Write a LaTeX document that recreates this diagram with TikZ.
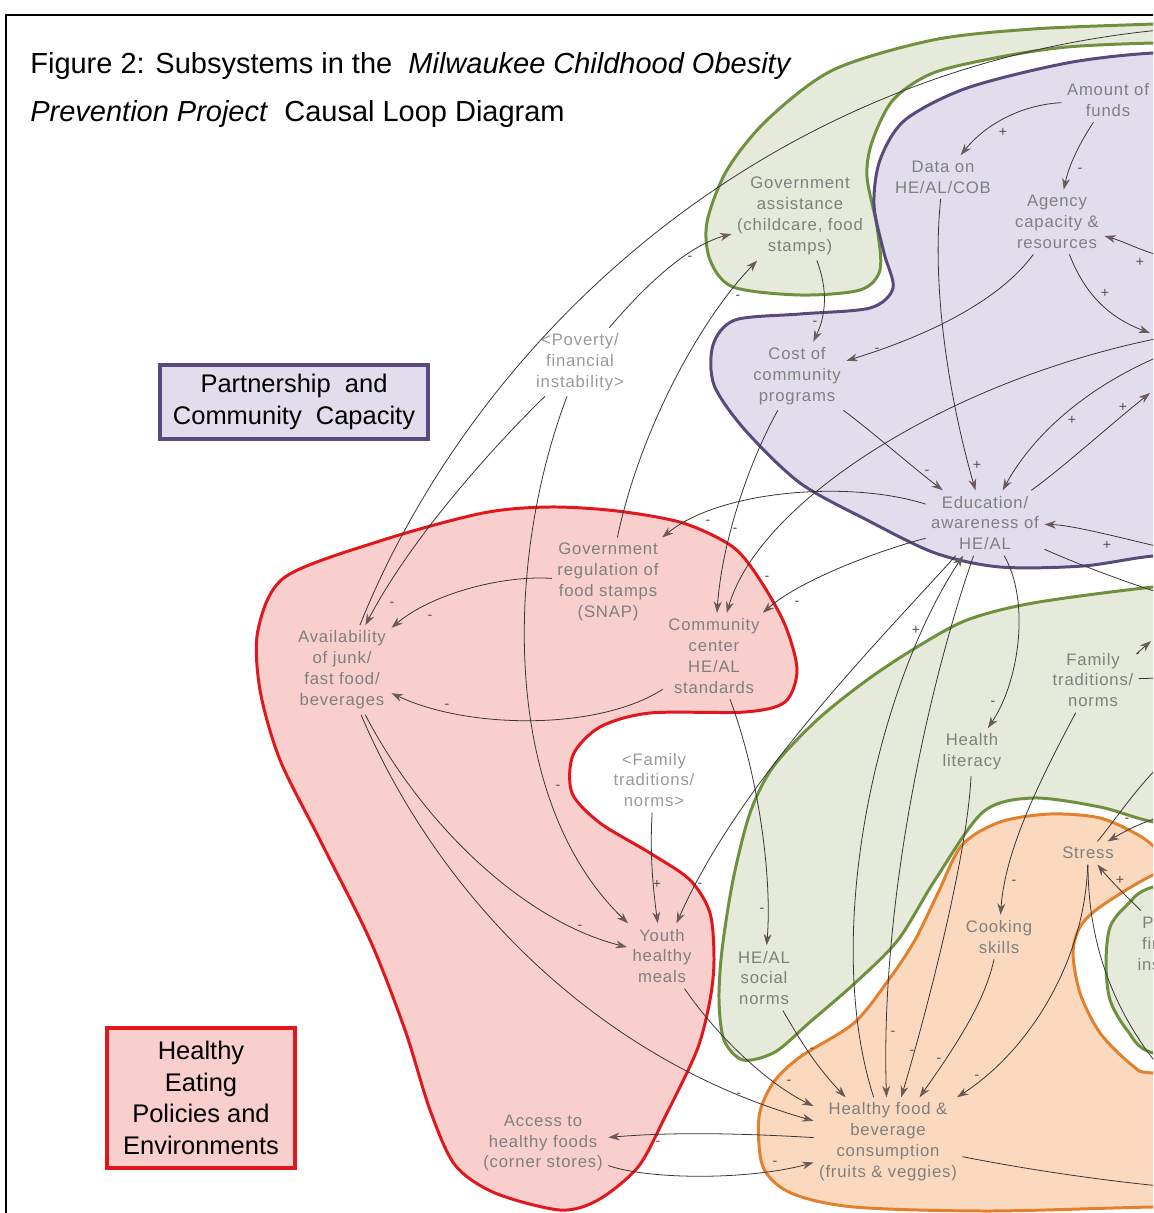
\documentclass[tikz,border=0pt]{standalone}
\usepackage{fontspec}
\setmainfont{Liberation Sans}
\newfontfamily\varfont[LetterSpace=5]{Liberation Sans}
\usetikzlibrary{arrows.meta}

\definecolor{purplefill}{HTML}{E1DDEC}
\definecolor{purpleline}{HTML}{594A7E}
\definecolor{greenfill}{HTML}{E5EADB}
\definecolor{greenline}{HTML}{6F913F}
\definecolor{redfill}{HTML}{F9CFCE}
\definecolor{redline}{HTML}{E2171C}
\definecolor{orangefill}{HTML}{FBD9BF}
\definecolor{orangeline}{HTML}{E2802D}
\definecolor{vargray}{HTML}{7F7F7F}
\definecolor{shadowgray}{HTML}{999999}
\definecolor{linegray}{HTML}{3A3434}
\definecolor{tipgray}{HTML}{6A5A5A}
\definecolor{signgray}{HTML}{505050}

\tikzset{
    var/.style={align=center, font=\varfont\fontsize{9.5}{11.9}\selectfont, text=vargray, inner sep=3pt},
    shadowvar/.style={var, text=shadowgray},
    catbox/.style={align=center, font=\fontsize{14.5}{18}\selectfont, line width=2.3pt, inner sep=0pt},
    titleline/.style={anchor=base west, inner sep=0pt, font=\fontsize{16.5}{20}\selectfont},
    blob/.style={line width=1.7pt},
    cl/.style={draw=linegray, line width=0.45pt},
    arr/.style={cl, -{Stealth[length=6.5pt, width=4.5pt, color=tipgray]}},
    sgn/.style={font=\fontsize{8}{8}\selectfont, text=signgray, inner sep=0pt}
}

\begin{document}
\begin{tikzpicture}[x=0.02cm, y=-0.02cm]
        \useasboundingbox (0,0) rectangle (1153,1213);
        \clip (0,0) rectangle (1153,1213);
        \fill[white] (0,0) rectangle (1153,1213);
        \draw[line width=1.7pt] (6,15) rectangle (1220,1260);

        \filldraw[blob, fill=greenfill, draw=greenline] plot[smooth cycle] coordinates {
            (1250,20) (1153,24) (1033,29) (933,40) (833,70) (767,120) (727,170) (707,222)
            (710,260) (733,287) (800,295) (860,290) (880,270) (877,227) (867,177) (872,142)
            (893,100) (933,73) (1000,57) (1067,47) (1153,43) (1250,42)};
        \filldraw[blob, fill=purplefill, draw=purpleline] plot[smooth cycle] coordinates {
            (1250,52) (1153,53) (1067,63) (967,88) (905,120) (880,160) (874,205) (884,253)
            (893,288) (870,308) (800,314) (735,320) (713,345) (714,385) (745,430) (800,483)
            (867,520) (935,553) (1000,567) (1083,566) (1153,556) (1250,550)};
        \filldraw[blob, fill=redfill, draw=redline] plot[smooth cycle] coordinates {
            (258,630) (285,577) (383,540) (483,513) (550,507) (617,511) (683,523) (733,547)
            (760,580) (785,625) (797,670) (785,702) (745,712) (650,713) (600,727) (573,755)
            (572,793) (600,823) (650,853) (690,880) (710,913) (714,960) (710,1000) (697,1050)
            (665,1117) (638,1167) (598,1200) (560,1210) (495,1193) (455,1165) (430,1110)
            (405,1030) (370,940) (320,840) (280,760) (260,690)};
        \filldraw[blob, fill=greenfill, draw=greenline] plot[smooth cycle] coordinates {
            (1250,580) (1153,587) (1033,603) (967,620) (917,647) (867,680) (817,720) (773,767)
            (750,813) (733,880) (722,950) (719,1000) (724,1040) (743,1060) (775,1052)
            (810,1022) (855,983) (898,940) (935,880) (983,812) (1033,798) (1100,807)
            (1153,822) (1250,840)};
        \filldraw[blob, fill=greenfill, draw=greenline] plot[smooth cycle] coordinates {
            (1250,870) (1153,887) (1127,905) (1110,927) (1106,963) (1110,1000) (1127,1030)
            (1153,1053) (1250,1065)};
        \filldraw[blob, fill=orangefill, draw=orangeline] plot[smooth cycle] coordinates {
            (1170,858) (1140,836) (1100,818) (1050,814) (1000,822) (962,845) (938,893)
            (915,940) (890,978) (854,1023) (800,1057) (773,1083) (759,1117) (763,1167)
            (791,1193) (854,1207) (988,1211) (1153,1207) (1250,1207) (1250,1075) (1153,1073)
            (1133,1066) (1100,1033) (1080,993) (1073,953) (1080,927) (1100,907) (1153,875)
            (1200,862)};

        \node[titleline] (title1) at (30,74)
            {Figure 2: Subsystems in the\ \ \textit{Milwaukee Childhood Obesity}};
        \node[titleline] (title2) at (30,122)
            {\textit{Prevention Project}\ \ Causal Loop Diagram};
        \node[catbox, fill=purplefill, draw=purpleline, minimum width=153pt, minimum height=42pt]
            (pcc) at (294,402) {Partnership\ \ and\\Community\ \ Capacity};
        \node[catbox, fill=redfill, draw=redline, minimum width=107pt, minimum height=80pt]
            (hepe) at (201,1098) {Healthy\\Eating\\Policies and\\Environments};

        \node[var] (funds) at (1108,100) {Amount of\\funds};
        \node[var] (data) at (943,177) {Data on\\HE/AL/COB};
        \node[var] (agency) at (1057,222) {Agency\\capacity \&\\resources};
        \node[var] (cost) at (797,376) {Cost of\\community\\programs};
        \node[var] (edu) at (985,523) {Education/\\awareness of\\HE/AL};
        \node[var] (govassist) at (800,216) {Government\\assistance\\(childcare, food\\stamps)};
        \node[shadowvar] (poverty) at (580,362) {<Poverty/\\financial\\instability>};
        \node[var] (govreg) at (608,582) {Government\\regulation of\\food stamps\\(SNAP)};
        \node[var] (junk) at (342,670) {Availability\\of junk/\\fast food/\\beverages};
        \node[var] (center) at (714,656) {Community\\center\\HE/AL\\standards};
        \node[shadowvar] (famshadow) at (654,780) {<Family\\traditions/\\norms>};
        \node[var] (youth) at (662,956) {Youth\\healthy\\meals};
        \node[var] (access) at (543,1143) {Access to\\healthy foods\\(corner stores)};
        \node[var] (family) at (1093,680) {Family\\traditions/\\norms};
        \node[var] (literacy) at (972,752) {Health\\literacy};
        \node[var] (social) at (764,978) {HE/AL\\social\\norms};
        \node[var] (stress) at (1088,853) {Stress};
        \node[var] (cooking) at (999,937) {Cooking\\skills};
        \node[var] (hfc) at (888,1142) {Healthy food \&\\beverage\\consumption\\(fruits \& veggies)};
        \node[var] (povright) at (1176,945) {Poverty/\\financial\\instability};

        \coordinate (etop) at (1160,30);
        \coordinate (eagin) at (1160,256);
        \coordinate (eagout) at (1150,333);
        \coordinate (ecenter) at (1160,338);
        \coordinate (eeduin) at (1160,356);
        \coordinate (eeduout) at (1150,393);
        \coordinate (eedulow) at (1160,547);
        \coordinate (eedurt) at (1160,593);
        \coordinate (efamout) at (1151,641);
        \coordinate (efamrt) at (1160,678);
        \coordinate (estressup) at (1160,765);
        \coordinate (estressin) at (1160,817);
        \coordinate (estressdn) at (1160,1068);
        \coordinate (ehfc) at (1160,1186);

        \draw[arr] (funds) .. controls (1020,105) and (985,125) .. (data);
        \draw[arr] (funds) .. controls (1085,135) and (1070,160) .. (agency);
        \draw[arr] (eagin) .. controls (1135,248) and (1125,242) .. (agency);
        \draw[arr] (agency) .. controls (1085,295) and (1110,318) .. (eagout);
        \draw[arr] (agency) .. controls (1000,300) and (930,335) .. (cost);
        \draw[arr] (data) .. controls (930,300) and (955,420) .. (edu);
        \draw[arr] (cost) .. controls (870,430) and (910,465) .. (edu);
        \draw[arr] (eeduin) .. controls (1080,390) and (1030,440) .. (edu);
        \draw[arr] (edu) .. controls (1060,470) and (1110,425) .. (eeduout);
        \draw[arr] (eedulow) .. controls (1110,535) and (1070,525) .. (edu);
        \draw[cl] (edu) .. controls (1080,565) and (1120,580) .. (eedurt);
        \draw[arr] (ecenter) .. controls (950,380) and (760,500) .. (center);
        \draw[arr] (cost) .. controls (750,460) and (722,540) .. (center);
        \draw[arr] (edu) .. controls (850,480) and (720,490) .. (govreg);
        \draw[arr] (edu) .. controls (880,550) and (800,580) .. (center);
        \draw[arr] (poverty) .. controls (650,280) and (690,245) .. (govassist);
        \draw[arr] (govreg) .. controls (640,430) and (700,320) .. (govassist);
        \draw[arr] (govassist) .. controls (828,290) and (826,315) .. (cost);
        \draw[arr] (poverty) .. controls (490,450) and (410,540) .. (junk);
        \draw[cl] (junk) .. controls (470,350) and (750,70) .. (etop);
        \draw[arr] (poverty) .. controls (505,560) and (500,800) .. (youth);
        \draw[arr] (govreg) .. controls (500,575) and (430,595) .. (junk);
        \draw[arr] (center) .. controls (600,730) and (470,730) .. (junk);
        \draw[arr] (junk) .. controls (420,820) and (520,920) .. (youth);
        \draw[arr] (junk) .. controls (440,900) and (600,1060) .. (hfc);
        \draw[arr] (famshadow) .. controls (650,850) and (652,880) .. (youth);
        \draw[arr] (edu) .. controls (880,640) and (740,780) .. (youth);
        \draw[arr] (edu) .. controls (930,680) and (880,900) .. (hfc);
        \draw[arr] (hfc) .. controls (820,930) and (880,680) .. (edu);
        \draw[arr] (edu) .. controls (1030,600) and (1020,680) .. (literacy);
        \draw[arr] (literacy) .. controls (968,850) and (930,1000) .. (hfc);
        \draw[arr] (cooking) .. controls (985,1000) and (960,1040) .. (hfc);
        \draw[arr] (stress) .. controls (1085,960) and (1030,1050) .. (hfc);
        \draw[arr] (social) .. controls (800,1040) and (815,1065) .. (hfc);
        \draw[arr] (youth) .. controls (720,1040) and (770,1085) .. (hfc);
        \draw[arr] (center) .. controls (760,780) and (772,880) .. (social);
        \draw[arr] (family) .. controls (1040,780) and (1005,850) .. (cooking);
        \draw[arr] (family) .. controls (1135,655) .. (efamout);
        \draw[cl] (family) -- (efamrt);
        \draw[arr] (povright) .. controls (1125,895) and (1110,880) .. (stress);
        \draw[arr] (estressin) .. controls (1135,825) and (1122,833) .. (stress);
        \draw[cl] (stress) .. controls (1115,820) and (1135,790) .. (estressup);
        \draw[cl] (stress) .. controls (1088,930) and (1105,1000) .. (estressdn);
        \draw[cl] (hfc) .. controls (1030,1170) and (1100,1180) .. (ehfc);
        \draw[arr] (hfc) .. controls (720,1132) and (660,1133) .. (access);
        \draw[arr] (access) .. controls (650,1180) and (750,1180) .. (hfc);

        \foreach \sx/\sy/\sv [count=\i] in {1003/132/+, 1080/170/-, 1140/262/+, 1105/293/+,
                877/350/-, 815/323/-, 690/258/-, 738/297/-, 977/465/+, 927/472/-, 1072/420/+,
                1123/407/+, 1107/545/+, 708/522/-, 735/530/-, 767/578/-, 797/603/-, 392/604/-,
                430/617/-, 447/706/-, 558/787/-, 580/927/-, 657/884/+, 700/885/-, 916/630/+,
                993/703/-, 762/910/-, 812/1050/-, 789/1082/-, 739/1095/-, 893/1033/-,
                912/1052/-, 939/1060/-, 977/1077/-, 1014/882/-, 1120/880/+, 1127/820/-,
                658/1143/-, 775/1163/-}
            \node[sgn] (sign\i) at (\sx,\sy) {\sv};
\end{tikzpicture}
\end{document}
